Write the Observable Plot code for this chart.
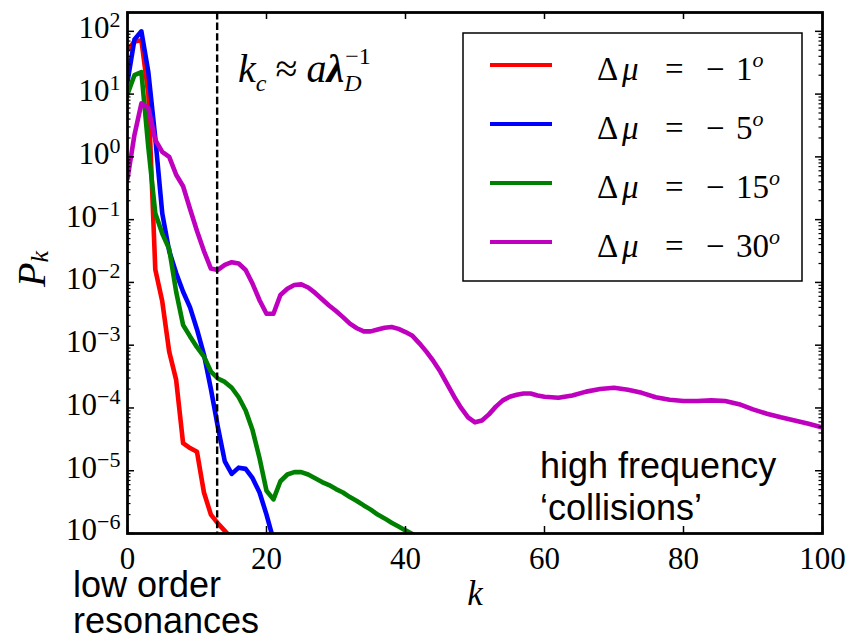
<!DOCTYPE html>
<html>
<head>
<meta charset="utf-8">
<script src="https://cdn.jsdelivr.net/npm/d3@7"></script>
<script src="https://cdn.jsdelivr.net/npm/@observablehq/plot@0.6"></script>
<style>
  body { margin: 0; background: #fff; }
  svg { display: block; }
</style>
</head>
<body>
<script>
// Power spectrum P_k of the mode amplitudes for four detunings Δμ.
const muValues = [-1, -5, -15, -30];
const colors = ["#ff0000", "#0000ff", "#008000", "#bf00bf"];

const kMu1 = [0, 1, 2, 3, 4, 5, 6, 7, 8, 9, 10, 11, 12, 13, 14, 15];
const pMu1 = [50, 69, 72, 10, 0.016, 0.005, 7.9e-4, 2.8e-4, 2.75e-5, 2.3e-5, 2.0e-5,
              4.5e-6, 2.0e-6, 1.45e-6, 1.1e-6, 8.3e-7];

const kMu5 = [0, 1, 2, 3, 4, 5, 6, 7, 8, 9, 10, 11, 12, 13, 14, 15, 16, 17, 18, 19, 20, 21];
const pMu5 = [15.8, 74, 100, 22.4, 2.0, 0.126, 0.0316, 0.0141, 0.0071, 0.0040, 0.00178,
              7.1e-4, 2.0e-4, 5.0e-5, 1.41e-5, 8.9e-6, 1.12e-5, 1.07e-5, 7.6e-6, 4.5e-6,
              2.0e-6, 7.9e-7];

const kMu15 = [0, 1, 2, 3, 4, 5, 6, 7, 8, 9, 10, 11, 12, 13, 14, 15, 16, 17, 18, 19, 20,
               21, 22, 23, 24, 25, 26, 27, 28, 29, 30, 31, 32, 33, 34, 35, 36, 37, 38, 39,
               40, 41, 42];
const pMu15 = [10, 20, 22.4, 1.41, 0.126, 0.060, 0.034, 0.0071, 0.0021, 0.00138, 9.3e-4,
               6.6e-4, 3.8e-4, 2.95e-4, 2.6e-4, 2.1e-4, 1.48e-4, 9.1e-5, 4.4e-5, 1.58e-5,
               4.8e-6, 3.5e-6, 6.8e-6, 8.7e-6, 9.5e-6, 9.5e-6, 8.7e-6, 7.6e-6, 6.6e-6,
               5.9e-6, 5.1e-6, 4.5e-6, 3.8e-6, 3.3e-6, 2.8e-6, 2.4e-6, 2.0e-6, 1.74e-6,
               1.48e-6, 1.29e-6, 1.12e-6, 9.8e-7, 8.5e-7];

const kMu30 = [0, 1, 2, 3, 4, 5, 6, 7, 8, 9, 10, 11, 12, 13, 14, 15, 16, 17, 18, 19, 20,
               21, 22, 23, 24, 25, 26, 27, 28, 29, 30, 31, 32, 33, 34, 35, 36, 37, 38, 39,
               40, 41, 42, 43, 44, 45, 46, 47, 48, 49, 50, 51, 52, 53, 54, 55, 56, 57, 58,
               59, 60, 62, 64, 66, 68, 70, 72, 74, 76, 78, 80, 82, 84, 86, 88, 90, 92, 94,
               96, 98, 100];
const pMu30 = [0.45, 2.24, 7.1, 6.0, 1.86, 1.2, 1.0, 0.52, 0.34, 0.148, 0.066, 0.0316,
               0.0166, 0.0158, 0.019, 0.021, 0.020, 0.0158, 0.0095, 0.0052, 0.00316,
               0.00316, 0.0063, 0.0079, 0.0091, 0.0093, 0.0083, 0.0068, 0.0054, 0.0043,
               0.0035, 0.0028, 0.0022, 0.00186, 0.00166, 0.00166, 0.00178, 0.0019, 0.00195,
               0.00182, 0.00162, 0.00141, 0.00107, 7.9e-4, 5.6e-4, 3.8e-4, 2.4e-4, 1.51e-4,
               1.0e-4, 7.1e-5, 5.9e-5, 6.3e-5, 7.9e-5, 1.05e-4, 1.32e-4, 1.51e-4, 1.62e-4,
               1.70e-4, 1.70e-4, 1.58e-4, 1.51e-4, 1.45e-4, 1.58e-4, 1.82e-4, 2.0e-4, 2.1e-4,
               1.95e-4, 1.74e-4, 1.48e-4, 1.35e-4, 1.29e-4, 1.29e-4, 1.32e-4, 1.29e-4,
               1.15e-4, 9.5e-5, 8.1e-5, 7.1e-5, 6.3e-5, 5.6e-5, 4.9e-5];

// Debye cutoff wavenumber k_c
const kc = 12.9;

// axis ticks
const xTicks = [0, 20, 40, 60, 80, 100];
const yExponents = [-6, -5, -4, -3, -2, -1, 0, 1, 2];
const yTop = 10 ** 2.3;

const seriesK = [kMu1, kMu5, kMu15, kMu30];
const seriesP = [pMu1, pMu5, pMu15, pMu30];
const rows = muValues.flatMap((mu, s) =>
  seriesK[s].map((k, i) => ({ mu, k, p: seriesP[s][i] })));

const yMajor = yExponents.map(e => 10 ** e);
const yMinor = yExponents.flatMap(e => d3.range(2, 10).map(m => m * 10 ** e))
  .filter(v => v < yTop);

const W = 849, H = 643;
const mL = 127, mR = 27, mT = 12, mB = 110;
const innerW = W - mL - mR, innerH = H - mT - mB;
const serif = "'Liberation Serif', 'Times New Roman', serif";
const sans = "'Liberation Sans', Arial, sans-serif";
const major = 7, minor = 3.5;

const chart = Plot.plot({
  width: W, height: H,
  marginLeft: mL, marginRight: mR, marginTop: mT, marginBottom: mB,
  style: { fontFamily: serif, fontSize: "30px", background: "white", color: "black" },
  x: { domain: [0, 100] },
  y: { type: "log", domain: [1e-6, yTop] },
  color: { domain: muValues, range: colors },
  marks: [
    Plot.line(rows, { x: "k", y: "p", z: "mu", stroke: "mu", strokeWidth: 4.6, clip: true }),
    Plot.ruleX([kc], { stroke: "black", strokeWidth: 2.4, strokeDasharray: "7.4,3.2" }),
    // inward ticks on all four sides
    Plot.tickX(xTicks, { x: d => d, insetTop: innerH - major, stroke: "black", strokeWidth: 1.5 }),
    Plot.tickX(xTicks, { x: d => d, insetBottom: innerH - major, stroke: "black", strokeWidth: 1.5 }),
    Plot.tickY(yMajor, { y: d => d, insetRight: innerW - major, stroke: "black", strokeWidth: 1.5 }),
    Plot.tickY(yMajor, { y: d => d, insetLeft: innerW - major, stroke: "black", strokeWidth: 1.5 }),
    Plot.tickY(yMinor, { y: d => d, insetRight: innerW - minor, stroke: "black", strokeWidth: 1.2 }),
    Plot.tickY(yMinor, { y: d => d, insetLeft: innerW - minor, stroke: "black", strokeWidth: 1.2 }),
    Plot.frame({ stroke: "black", strokeWidth: 2.8 }),
    Plot.axisX({ ticks: xTicks, tickSize: 0, tickPadding: 13, label: null, fontSize: 31 }),
    Plot.axisY({ ticks: yMajor, tickSize: 0, tickPadding: 7, dy: -3, label: null, fontSize: 31,
                 tickFormat: d => "10^" + Math.round(Math.log10(d)) })
  ]
});
document.body.appendChild(chart);

const svg = d3.select(chart);

// superscript exponents on the log-axis labels
svg.selectAll('g[aria-label="y-axis tick label"] text').each(function () {
  const t = d3.select(this);
  const [base, exp] = t.text().split("^");
  t.text(null);
  t.append("tspan").text(base);
  t.append("tspan").attr("dy", "-0.5em").attr("font-size", 22)
    .text(exp.replace("-", "\u2212"));
});

// axis titles
const yl = svg.append("text")
  .attr("transform", "translate(45,269) rotate(-90)")
  .attr("text-anchor", "middle").attr("font-family", serif)
  .attr("font-size", 40).attr("font-style", "italic");
yl.append("tspan").text("P");
yl.append("tspan").attr("font-size", 26).attr("dy", 3).text("k");

svg.append("text").attr("x", 475).attr("y", 605).attr("text-anchor", "middle")
  .attr("font-family", serif).attr("font-size", 35).attr("font-style", "italic").text("k");

// cutoff annotation k_c ≈ a λ_D^{-1}
const ann = svg.append("text").attr("x", 238).attr("y", 82).attr("text-anchor", "start")
  .attr("font-family", serif).attr("font-size", 40).attr("font-style", "italic");
ann.append("tspan").text("k");
ann.append("tspan").attr("font-size", 24).attr("dy", 9).text("c");
ann.append("tspan").attr("dy", -9).attr("font-style", "normal").attr("dx", 9).text("\u2248");
ann.append("tspan").attr("dx", 9).text("a");
ann.append("tspan").attr("font-weight", "bold").text("\u03bb");
ann.append("tspan").attr("font-size", 24).attr("dy", 9).text("D");
const supX = ann.node().getStartPositionOfChar(5).x;
svg.append("text").attr("x", supX + 1).attr("y", 64).attr("text-anchor", "start")
  .attr("font-family", serif).attr("font-size", 24).text("\u22121");

// legend
const lg = svg.append("g").attr("text-anchor", "start");
lg.append("rect").attr("x", 463).attr("y", 33).attr("width", 339).attr("height", 248)
  .attr("fill", "white").attr("stroke", "black").attr("stroke-width", 1.5);
muValues.forEach((mu, i) => {
  const y = 65 + i * 59;
  lg.append("line").attr("x1", 490).attr("x2", 552).attr("y1", y).attr("y2", y)
    .attr("stroke", colors[i]).attr("stroke-width", 4.2);
  const t = lg.append("text").attr("y", y + 15).attr("font-family", serif).attr("font-size", 33);
  t.append("tspan").attr("x", 597).text("\u0394");
  t.append("tspan").attr("x", 622).attr("font-style", "italic").text("\u03bc");
  t.append("tspan").attr("x", 665).text("=");
  t.append("tspan").attr("x", 706).text("\u2212");
  t.append("tspan").attr("x", 736).text(String(Math.abs(mu)));
  t.append("tspan").attr("dy", -13).attr("font-size", 22).attr("font-style", "italic").text("o");
});

// region annotations
const notes = svg.append("g").attr("text-anchor", "start")
  .attr("font-family", sans).attr("font-size", 36);
const low = notes.append("text");
low.append("tspan").attr("x", 73).attr("y", 597).text("low order");
low.append("tspan").attr("x", 73).attr("y", 633).text("resonances");
const high = notes.append("text");
high.append("tspan").attr("x", 540).attr("y", 478).text("high frequency");
high.append("tspan").attr("x", 540).attr("y", 520).text("\u2018collisions\u2019");
</script>
</body>
</html>
